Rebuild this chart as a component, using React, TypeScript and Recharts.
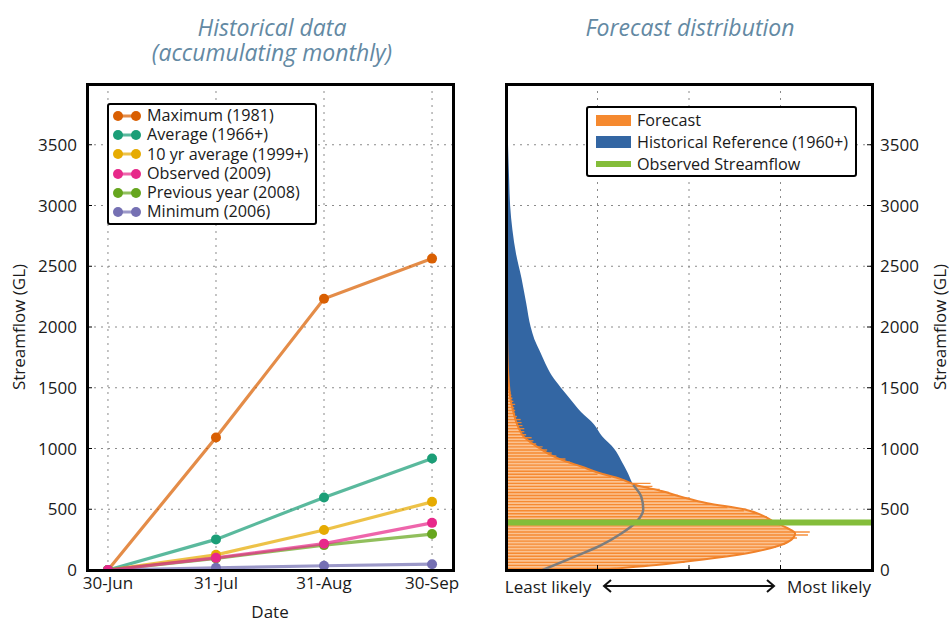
import React from 'react';
import {
  LineChart, Line, XAxis, YAxis, CartesianGrid,
  ComposedChart, Area, Bar, ReferenceLine,
} from 'recharts';

// ---- historical (left panel) ----
const dates = ['30-Jun', '31-Jul', '31-Aug', '30-Sep'];
const maximum1981 = [0, 1090, 2232, 2563];
const average1966 = [0, 252, 597, 918];
const tenYearAverage = [0, 125, 329, 561];
const observed2009 = [0, 100, 217, 388];
const previousYear2008 = [0, 95, 205, 296];
const minimum2006 = [0, 18, 35, 48];

const streamTicks = [0, 500, 1000, 1500, 2000, 2500, 3000, 3500];

// ---- forecast distribution (right panel) ----
// histogram of forecast ensemble, 25 GL bins starting at 0
const binWidth = 25;
const forecastBins = [
  1.2, 1.55, 1.95, 2.2, 2.4, 2.6, 2.78, 2.95, 3.05, 3.1,
  3.18, 3.3, 3.32, 3.1, 3.0, 2.97, 2.9, 2.85, 2.75, 2.6,
  2.42, 2.28, 2.12, 2.0, 1.88, 1.78, 1.68, 1.6, 1.58, 1.3,
  1.15, 1.0, 0.95, 0.85, 0.78, 0.7, 0.65, 0.55, 0.5, 0.45,
  0.4, 0.33, 0.3, 0.28, 0.22, 0.2, 0.2, 0.18, 0.17, 0.16,
  0.12, 0.1, 0.1, 0.09, 0.1, 0.08, 0.07, 0.06, 0.05, 0.04,
  0.04, 0.03, 0.03, 0.02, 0.02, 0.02, 0.015, 0.015, 0.01,
];

// smoothed forecast density
const forecastGl = [0, 50, 100, 150, 200, 250, 300, 350, 400, 450, 500, 550, 600, 650, 700, 750, 800, 850, 900, 950, 1000, 1050, 1100, 1150, 1200, 1300, 1400, 1500, 1600, 1800, 2000, 2150, 2200];
const forecastDensity = [1.0, 1.75, 2.3, 2.72, 2.98, 3.12, 3.16, 3.06, 2.92, 2.8, 2.6, 2.2, 1.93, 1.7, 1.42, 1.25, 1.01, 0.83, 0.63, 0.48, 0.37, 0.27, 0.19, 0.15, 0.12, 0.08, 0.05, 0.035, 0.025, 0.015, 0.01, 0.005, 0];

// historical reference density
const historicalGl = [0, 100, 200, 300, 400, 500, 600, 700, 800, 900, 1000, 1100, 1200, 1300, 1400, 1500, 1600, 1700, 1800, 1900, 2000, 2200, 2400, 2600, 2800, 3000, 3200, 3500, 3800, 3950];
const historicalDensity = [0.4, 0.72, 1.03, 1.26, 1.43, 1.5, 1.48, 1.39, 1.33, 1.26, 1.18, 1.05, 0.96, 0.82, 0.71, 0.6, 0.5, 0.43, 0.37, 0.31, 0.27, 0.22, 0.17, 0.11, 0.07, 0.045, 0.035, 0.022, 0.012, 0];

const observedFlow = 390;

const font = '"Open Sans", sans-serif';
const ink = '#1a1a1a';
const titleColor = '#6389a3';

const series = [
  { key: 'max', name: 'Maximum (1981)', color: '#d95f02', values: maximum1981 },
  { key: 'avg', name: 'Average (1966+)', color: '#1b9e77', values: average1966 },
  { key: 'ten', name: '10 yr average (1999+)', color: '#e6ab02', values: tenYearAverage },
  { key: 'obs', name: 'Observed (2009)', color: '#e7298a', values: observed2009 },
  { key: 'prev', name: 'Previous year (2008)', color: '#66a61e', values: previousYear2008 },
  { key: 'min', name: 'Minimum (2006)', color: '#7570b3', values: minimum2006 },
];
// observed is drawn on top
const drawOrder = ['max', 'avg', 'ten', 'prev', 'min', 'obs'];

const lineData = dates.map((d, i) => {
  const row: Record<string, number | string> = { i, date: d };
  series.forEach((s) => { row[s.key] = s.values[i]; });
  return row;
});

const binData = forecastBins.map((f, i) => ({ gl: i * binWidth + binWidth / 2, f }));
const forecastCurve = forecastGl.map((gl, i) => ({ gl, x: forecastDensity[i] }));
const historicalCurve = historicalGl.map((gl, i) => ({ gl, x: historicalDensity[i] }));
const historicalLow = historicalCurve.filter((p) => p.gl <= 700);

const tickStyle = { fontSize: 17, fill: ink, fontFamily: font };
const gridDash = '2 5';
const noLabel = () => '';

const abs = (s: React.CSSProperties): React.CSSProperties => ({ position: 'absolute', ...s });

const Frame = ({ left, top, width, height }: { left: number; top: number; width: number; height: number }) => (
  <div style={abs({ left: left - 1.5, top: top - 1.5, width: width + 3, height: height + 3, border: '3px solid #000', boxSizing: 'border-box', pointerEvents: 'none' })} />
);

const HistoricalPanel = () => (
  <div style={abs({ left: 0, top: 0, width: 480, height: 621 })}>
    <LineChart width={480} height={621} data={lineData} margin={{ top: 84, right: 26, bottom: 21, left: 0 }}>
      <CartesianGrid strokeDasharray={gridDash} stroke="#8a8a8a" />
      <XAxis
        type="number"
        dataKey="i"
        domain={[-0.194, 3.194]}
        ticks={[0, 1, 2, 3]}
        allowDataOverflow
        tickFormatter={(v) => dates[v]}
        tick={tickStyle}
        tickSize={-5}
        tickMargin={12}
        axisLine={false}
        stroke="#000"
        height={30}
      />
      <YAxis
        type="number"
        domain={[0, 4000]}
        ticks={streamTicks}
        allowDataOverflow
        tick={tickStyle}
        tickSize={-5}
        tickMargin={15}
        axisLine={false}
        stroke="#000"
        width={87}
      />
      <YAxis
        yAxisId="r"
        orientation="right"
        type="number"
        domain={[0, 4000]}
        ticks={streamTicks}
        tickFormatter={noLabel}
        tickSize={-5}
        axisLine={false}
        stroke="#000"
        width={1}
      />
      {drawOrder.map((k) => {
        const s = series.find((x) => x.key === k)!;
        return (
          <Line
            key={s.key}
            dataKey={s.key}
            name={s.name}
            stroke={s.color}
            strokeOpacity={0.72}
            strokeWidth={3.2}
            dot={{ r: 5, fill: s.color, strokeWidth: 0, fillOpacity: 1 }}
            isAnimationActive={false}
          />
        );
      })}
    </LineChart>
    <Frame left={87} top={84} width={366} height={486} />
    <div style={abs({ left: 107, top: 103, border: '2px solid #000', borderRadius: 3, background: '#fff', padding: '1px 7px 1px 2px', fontFamily: font, fontSize: 16.2, color: ink, lineHeight: '19.3px' })}>
      {series.map((s) => (
        <div key={s.key} style={{ display: 'flex', alignItems: 'center', whiteSpace: 'nowrap' }}>
          <svg width={33} height={12} style={{ marginRight: 3 }}>
            <line x1={7} y1={6} x2={25} y2={6} stroke={s.color} strokeOpacity={0.72} strokeWidth={3} />
            <circle cx={7} cy={6} r={5} fill={s.color} />
            <circle cx={25} cy={6} r={5} fill={s.color} />
          </svg>
          <span>{s.name}</span>
        </div>
      ))}
    </div>
  </div>
);

const ForecastPanel = () => (
  <div style={abs({ left: 480, top: 0, width: 469, height: 621 })}>
    <ComposedChart layout="vertical" width={469} height={621} data={binData} margin={{ top: 84, right: 0, bottom: 21, left: 26 }}>
      <CartesianGrid strokeDasharray={gridDash} stroke="#8a8a8a" />
      <XAxis
        type="number"
        domain={[0, 4]}
        ticks={[1, 2, 3]}
        allowDataOverflow
        tickFormatter={noLabel}
        tickSize={-5}
        axisLine={false}
        stroke="#000"
        height={30}
      />
      <YAxis
        type="number"
        dataKey="gl"
        orientation="right"
        reversed
        domain={[0, 4000]}
        ticks={streamTicks}
        allowDataOverflow
        tick={tickStyle}
        tickSize={-5}
        tickMargin={13}
        axisLine={false}
        stroke="#000"
        width={77}
      />
      <Area data={historicalCurve} dataKey="x" type="monotone" fill="#3366a3" fillOpacity={1} stroke="none" isAnimationActive={false} />
      <Area data={forecastCurve} dataKey="x" type="monotone" fill="#fbc291" fillOpacity={1} stroke="none" isAnimationActive={false} />
      <Bar dataKey="f" barSize={2.4} fill="#f5852a" fillOpacity={0.92} isAnimationActive={false} />
      <Line data={forecastCurve} dataKey="x" type="monotone" stroke="#f0822a" strokeWidth={2} dot={false} isAnimationActive={false} />
      <Line data={historicalLow} dataKey="x" type="monotone" stroke="#7d7d7d" strokeWidth={2.5} dot={false} isAnimationActive={false} />
      <ReferenceLine y={observedFlow} stroke="#84bd3a" strokeWidth={6} />
    </ComposedChart>
    <Frame left={26} top={84} width={366} height={486} />
    <div style={abs({ left: 106, top: 106, width: 271, height: 71, boxSizing: 'border-box', border: '2px solid #000', borderRadius: 3, background: '#fff', padding: '1px 0 0 8px', fontFamily: font, fontSize: 16.2, color: ink, lineHeight: '22px' })}>
      {[
        { name: 'Forecast', color: '#f5892f', h: 11 },
        { name: 'Historical Reference (1960+)', color: '#3366a3', h: 12 },
        { name: 'Observed Streamflow', color: '#84bd3a', h: 6 },
      ].map((it) => (
        <div key={it.name} style={{ display: 'flex', alignItems: 'center', whiteSpace: 'nowrap' }}>
          <div style={{ width: 35, height: it.h, background: it.color, marginRight: 6 }} />
          <span>{it.name}</span>
        </div>
      ))}
    </div>
  </div>
);

const centred = (left: number, top: number, extra: React.CSSProperties = {}): React.CSSProperties =>
  abs({ left, top, transform: 'translate(-50%, -50%)', whiteSpace: 'nowrap', lineHeight: 1, ...extra });

const titleStyle: React.CSSProperties = { fontSize: 23, fontStyle: 'italic', color: titleColor, textAlign: 'center' };

export default function App() {
  return (
    <div style={abs({ left: 0, top: 0, width: 949, height: 621, background: '#fff', fontFamily: font, color: ink, overflow: 'hidden' })}>
      <HistoricalPanel />
      <ForecastPanel />

      <div style={centred(272, 40, { ...titleStyle, lineHeight: '25px' })}>
        Historical data<br />(accumulating monthly)
      </div>
      <div style={centred(690, 27, titleStyle)}>Forecast distribution</div>

      <div style={centred(18, 327, { fontSize: 17, transform: 'translate(-50%, -50%) rotate(-90deg)' })}>Streamflow (GL)</div>
      <div style={centred(939, 327, { fontSize: 17, transform: 'translate(-50%, -50%) rotate(-90deg)' })}>Streamflow (GL)</div>
      <div style={centred(270, 611, { fontSize: 17 })}>Date</div>

      <div style={centred(548, 586, { fontSize: 17 })}>Least likely</div>
      <svg style={abs({ left: 601, top: 579 })} width={176} height={14}>
        <line x1={3} y1={7} x2={173} y2={7} stroke="#111" strokeWidth={2} />
        <polyline points="10,1 3,7 10,13" fill="none" stroke="#111" strokeWidth={2} />
        <polyline points="166,1 173,7 166,13" fill="none" stroke="#111" strokeWidth={2} />
      </svg>
      <div style={centred(829, 586, { fontSize: 17 })}>Most likely</div>
    </div>
  );
}
